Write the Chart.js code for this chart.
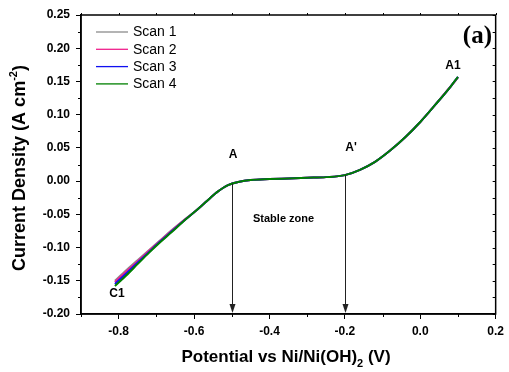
<!DOCTYPE html>
<html lang="en">
<head>
    <meta charset="UTF-8">
    <title>Scan comparison</title>
    <script src="https://cdn.jsdelivr.net/npm/chart.js"></script>
    <style>
        body { margin: 0; background: #fff; }
        #wrap { width: 509px; height: 372px; }
    </style>
</head>
<body>
    <div id="wrap"><canvas id="scanChart"></canvas></div>
    <script>
        // potential (V vs Ni/Ni(OH)2)
        const potential = [-0.81, -0.78, -0.75, -0.72, -0.69, -0.66, -0.63, -0.60, -0.57, -0.54, -0.51, -0.48, -0.45,
                           -0.40, -0.35, -0.30, -0.25, -0.20, -0.16, -0.12, -0.08, -0.04, 0.00, 0.04, 0.08, 0.10];
        // current density (A cm-2)
        const scan1 = [-0.150, -0.134, -0.119, -0.104, -0.089, -0.074, -0.060, -0.047, -0.032, -0.017, -0.006, -0.001, 0.0015,
                       0.003, 0.004, 0.005, 0.006, 0.009, 0.017, 0.029, 0.046, 0.066, 0.089, 0.115, 0.142, 0.156];
        const scan2 = [-0.152, -0.136, -0.121, -0.105, -0.090, -0.075, -0.0605, -0.047, -0.032, -0.017, -0.006, -0.001, 0.0015,
                       0.003, 0.004, 0.005, 0.006, 0.009, 0.017, 0.029, 0.046, 0.066, 0.089, 0.115, 0.142, 0.156];
        const scan3 = [-0.155, -0.139, -0.123, -0.107, -0.091, -0.076, -0.061, -0.047, -0.032, -0.017, -0.006, -0.001, 0.0015,
                       0.003, 0.004, 0.005, 0.006, 0.009, 0.017, 0.029, 0.046, 0.066, 0.089, 0.115, 0.142, 0.157];
        const scan4 = [-0.158, -0.142, -0.125, -0.108, -0.092, -0.077, -0.0615, -0.047, -0.032, -0.017, -0.006, -0.001, 0.0015,
                       0.003, 0.004, 0.005, 0.006, 0.009, 0.017, 0.029, 0.046, 0.066, 0.089, 0.115, 0.142, 0.157];
        const scanLabels = ['Scan 1', 'Scan 2', 'Scan 3', 'Scan 4'];
        const xTicks = [-0.8, -0.6, -0.4, -0.2, 0.0, 0.2];
        const yTicks = [-0.20, -0.15, -0.10, -0.05, 0.00, 0.05, 0.10, 0.15, 0.20, 0.25];
        // arrows marking the stable zone: x position and start current
        const arrowX = [-0.5, -0.2];
        const arrowY = [-0.004, 0.009];

        const colors = ['#8c8c8c', '#f0208c', '#1010f0', '#008000'];
        const series = [scan1, scan2, scan3, scan4];
        const FONT = '"Liberation Sans", Arial, sans-serif';

        const decor = {
            id: 'decor',
            afterDraw(chart) {
                const ctx = chart.ctx;
                const a = chart.chartArea;
                const xs = chart.scales.x, ys = chart.scales.y;
                ctx.save();
                ctx.strokeStyle = '#000';
                ctx.lineWidth = 1.5;
                ctx.strokeRect(a.left, a.top, a.right - a.left, a.bottom - a.top);

                // minor ticks
                ctx.lineWidth = 1;
                ctx.beginPath();
                for (let v = -0.9; v <= 0.21; v += 0.1) {
                    const px = Math.round(xs.getPixelForValue(v)) + 0.5;
                    const major = xTicks.some(t => Math.abs(t - v) < 1e-6);
                    if (!major) { ctx.moveTo(px, a.bottom); ctx.lineTo(px, a.bottom + 3); }
                    ctx.moveTo(px, a.top); ctx.lineTo(px, a.top - 2);
                }
                for (let v = -0.2; v <= 0.251; v += 0.025) {
                    const py = Math.round(ys.getPixelForValue(v)) + 0.5;
                    const major = yTicks.some(t => Math.abs(t - v) < 1e-6);
                    if (!major) { ctx.moveTo(a.left, py); ctx.lineTo(a.left - 3, py); }
                    ctx.moveTo(a.right, py); ctx.lineTo(a.right - 3, py);
                }
                ctx.stroke();

                // arrows
                ctx.strokeStyle = '#222';
                ctx.fillStyle = '#222';
                arrowX.forEach((x, i) => {
                    const px = Math.round(xs.getPixelForValue(x)) + 0.5;
                    const py = ys.getPixelForValue(arrowY[i]);
                    ctx.beginPath();
                    ctx.moveTo(px, py);
                    ctx.lineTo(px, a.bottom - 6);
                    ctx.stroke();
                    ctx.beginPath();
                    ctx.moveTo(px - 3, a.bottom - 10);
                    ctx.lineTo(px + 3, a.bottom - 10);
                    ctx.lineTo(px, a.bottom - 1);
                    ctx.closePath();
                    ctx.fill();
                });

                // legend
                ctx.font = '14px ' + FONT;
                ctx.textBaseline = 'middle';
                ctx.textAlign = 'left';
                scanLabels.forEach((lab, i) => {
                    const y = 32 + i * 17.3;
                    ctx.strokeStyle = colors[i];
                    ctx.lineWidth = 1.3;
                    ctx.beginPath();
                    ctx.moveTo(96, y); ctx.lineTo(128, y);
                    ctx.stroke();
                    ctx.fillStyle = '#000';
                    ctx.fillText(lab, 133, y + 0.5);
                });

                // point labels
                ctx.fillStyle = '#000';
                ctx.textAlign = 'center';
                ctx.font = 'bold 12px ' + FONT;
                ctx.fillText('A', 233, 155);
                ctx.fillText("A'", 351, 148);
                ctx.fillText('A1', 453, 66);
                ctx.fillText('C1', 117, 294);
                ctx.font = 'bold 11px ' + FONT;
                ctx.textAlign = 'left';
                ctx.fillText('Stable zone', 253, 219);

                ctx.font = 'bold 25px "Liberation Serif", "Times New Roman", serif';
                ctx.textAlign = 'right';
                ctx.textBaseline = 'alphabetic';
                ctx.fillText('(a)', 492, 43);

                // x axis title with subscript
                const big = 'bold 17px ' + FONT, small = 'bold 11px ' + FONT;
                const parts = [['Potential vs Ni/Ni(OH)', big, 0], ['2', small, 5], [' (V)', big, 0]];
                ctx.textAlign = 'left';
                let w = 0;
                parts.forEach(p => { ctx.font = p[1]; w += ctx.measureText(p[0]).width; });
                let x0 = 286 - w / 2;
                parts.forEach(p => {
                    ctx.font = p[1];
                    ctx.fillText(p[0], x0, 362 + p[2]);
                    x0 += ctx.measureText(p[0]).width;
                });

                // y axis title with superscript
                const ybig = 'bold 18px ' + FONT, ysmall = 'bold 11px ' + FONT;
                ctx.translate(25, 168);
                ctx.rotate(-Math.PI / 2);
                const yparts = [['Current Density (A cm', ybig, 0], ['-2', ysmall, -8], [')', ybig, 0]];
                w = 0;
                yparts.forEach(p => { ctx.font = p[1]; w += ctx.measureText(p[0]).width; });
                x0 = -w / 2;
                yparts.forEach(p => {
                    ctx.font = p[1];
                    ctx.fillText(p[0], x0, 0 + p[2]);
                    x0 += ctx.measureText(p[0]).width;
                });
                ctx.restore();
            }
        };

        new Chart(document.getElementById('scanChart'), {
            type: 'scatter',
            data: {
                datasets: series.map((s, i) => ({
                    label: scanLabels[i],
                    data: potential.map((p, j) => ({ x: p, y: s[j] })),
                    showLine: true,
                    borderColor: colors[i],
                    borderWidth: 2,
                    pointRadius: 0,
                    order: series.length - i,  // last scan drawn on top
                    tension: 0.4,
                    cubicInterpolationMode: 'monotone'
                }))
            },
            options: {
                responsive: true,
                maintainAspectRatio: false,
                animation: false,
                layout: { padding: { left: 0, top: 15, right: 10, bottom: 0 } },
                plugins: { legend: { display: false }, tooltip: { enabled: false } },
                scales: {
                    x: {
                        type: 'linear',
                        min: -0.9,
                        max: 0.2,
                        afterBuildTicks: scale => { scale.ticks = xTicks.map(v => ({ value: v })); },
                        afterFit: scale => { scale.height = 58; },
                        grid: { drawOnChartArea: false, tickLength: 5, tickColor: '#000', tickWidth: 1 },
                        border: { color: '#000', width: 1.5 },
                        ticks: {
                            color: '#000',
                            padding: 5,
                            maxRotation: 0,
                            font: { family: FONT, size: 12, weight: 'bold' },
                            callback: v => v.toFixed(1)
                        }
                    },
                    y: {
                        min: -0.2,
                        max: 0.25,
                        afterBuildTicks: scale => { scale.ticks = yTicks.map(v => ({ value: v })); },
                        afterFit: scale => { scale.width = 81; },
                        grid: { drawOnChartArea: false, tickLength: 5, tickColor: '#000', tickWidth: 1 },
                        border: { color: '#000', width: 1.5 },
                        ticks: {
                            color: '#000',
                            padding: 6,
                            font: { family: FONT, size: 12, weight: 'bold' },
                            callback: v => v.toFixed(2)
                        }
                    }
                }
            },
            plugins: [decor]
        });
    </script>
</body>
</html>
